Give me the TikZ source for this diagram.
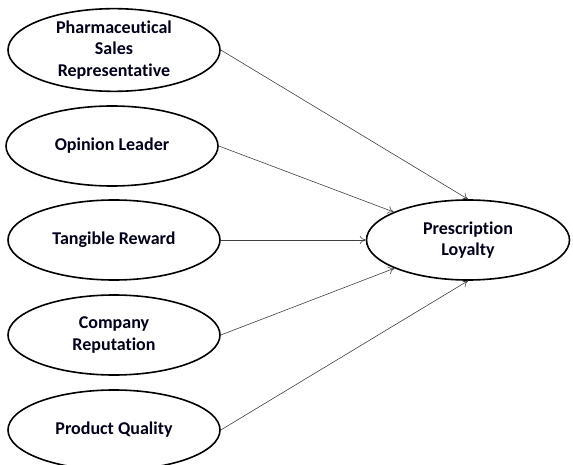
\documentclass[tikz,border=0pt]{standalone}
\usepackage{fontspec}
\setmainfont[Ligatures={NoCommon}]{Carlito}
\usetikzlibrary{arrows.meta,shapes.geometric}
\begin{document}
\begin{tikzpicture}[x=1pt,y=-1pt,
  oval/.style={ellipse,draw=black,line width=1.6pt,minimum width=212pt,minimum height=80pt,inner sep=0pt,
    align=center,font=\fontsize{18}{21.5}\selectfont\bfseries,text=black!90!blue},
  link/.style={draw=black!75,line width=0.6pt,-{To[length=6pt,width=8pt]}}]
\useasboundingbox (0,0) rectangle (573,465);
\node[oval] (a) at (114,50) {Pharmaceutical\\Sales\\Representative};
\node[oval] (b) at (112,146) {Opinion Leader};
\node[oval] (c) at (114,240) {Tangible Reward};
\node[oval] (d) at (114,335) {Company\\Reputation};
\node[oval] (e) at (114,430) {Product Quality};
\node[oval,minimum width=203pt] (p) at (468,240) {Prescription\\Loyalty};
\draw[link] (a.east) -- (p.north);
\draw[link] (b.east) -- (p);
\draw[link] (c.east) -- (p.west);
\draw[link] (d.east) -- (p);
\draw[link] (e.east) -- (p.south);
\end{tikzpicture}
\end{document}
